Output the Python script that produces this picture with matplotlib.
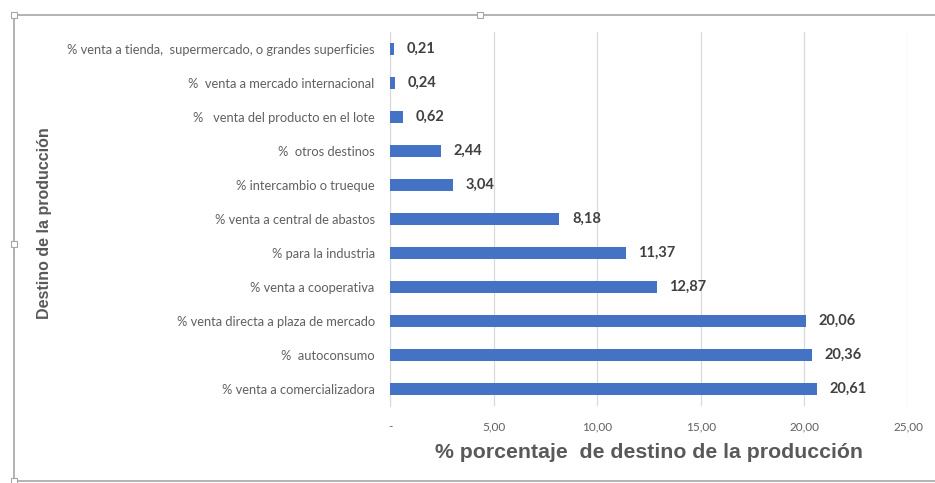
import matplotlib.pyplot as plt
from matplotlib.patches import Rectangle
from matplotlib.ticker import FuncFormatter

# Destinos de la producción (de arriba hacia abajo) y su porcentaje
destinos = [
    "% venta a tienda,  supermercado, o grandes superficies",
    "%  venta a mercado internacional",
    "%   venta del producto en el lote",
    "%  otros destinos",
    "% intercambio o trueque",
    "% venta a central de abastos",
    "% para la industria",
    "% venta a cooperativa",
    "% venta directa a plaza de mercado",
    "%  autoconsumo",
    "% venta a comercializadora",
]
porcentajes = [0.21, 0.24, 0.62, 2.44, 3.04, 8.18, 11.37, 12.87, 20.06, 20.36, 20.61]
x_ticks = [0, 5, 10, 15, 20, 25]

BLUE = "#4472c4"
GREY = "#595959"

W, H = 935, 483
fig = plt.figure(figsize=(W / 100, H / 100), dpi=100)
ax = fig.add_axes([390 / W, 1 - 406 / H, 518 / W, 374 / H])

pos = list(range(len(destinos)))
ax.barh(pos, porcentajes, height=0.36, color=BLUE, zorder=3)
ax.set_ylim(len(destinos) - 0.5, -0.5)
ax.set_xlim(0, 25)

for y, v in zip(pos, porcentajes):
    ax.annotate(f"{v:.2f}".replace(".", ","), xy=(v, y), xytext=(9, 0),
                textcoords="offset points", va="center", ha="left",
                fontsize=10.5, fontweight="bold", color="#404040",
                family="Lato")

ax.set_yticks(pos)
ax.set_yticklabels(destinos, fontsize=9.3, color="#606060", family="Lato")
ax.set_xticks(x_ticks)
ax.xaxis.set_major_formatter(FuncFormatter(
    lambda v, _: "-" if v == 0 else f"{v:.2f}".replace(".", ",")))
ax.tick_params(axis="x", labelsize=8.5, labelcolor="#606060", length=0, pad=11)
ax.tick_params(axis="y", length=0, pad=11)
for lab in ax.get_xticklabels():
    lab.set_family("Lato")

ax.grid(True, axis="x", color="#d9d9d9", lw=0.9, zorder=0)
for s in ("top", "right", "bottom"):
    ax.spines[s].set_visible(False)
ax.spines["left"].set_color("#d9d9d9")

ax.set_xlabel("% porcentaje  de destino de la producción", fontsize=15.3,
              fontweight="bold", color=GREY, family="Liberation Sans",
              labelpad=8)
fig.text(45 / W, 1 - 223 / H, "Destino de la producción", rotation=90,
         ha="center", va="center", fontsize=11.5, fontweight="bold",
         color=GREY, family="Liberation Sans")

# Marco del objeto con sus tiradores
fig.patches.append(Rectangle((14 / W, 2 / H), 1.2, 466 / H,
                             transform=fig.transFigure, fill=False,
                             ec="#a6a6a6", lw=1.2))
for hx, hy in [(14, 15), (480, 15), (14, 244), (14, 481)]:
    fig.patches.append(Rectangle(((hx - 3) / W, 1 - (hy + 3) / H), 6 / W, 6 / H,
                                 transform=fig.transFigure, fc="white",
                                 ec="#a6a6a6", lw=0.8, zorder=5))

fig.savefig("out.png", dpi=100)
